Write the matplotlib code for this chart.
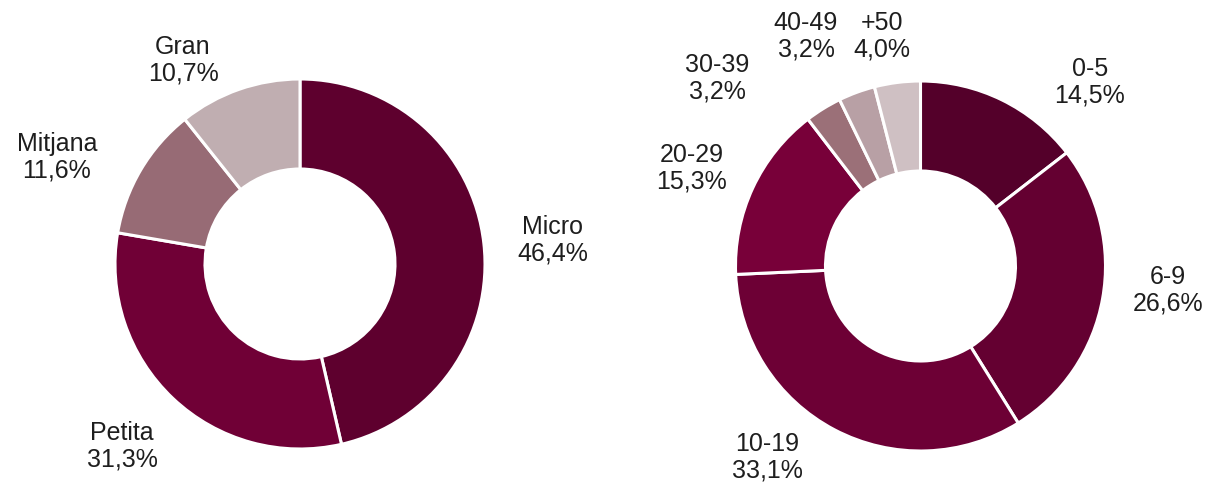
import matplotlib.pyplot as plt

# Left donut: company size
size_labels = ["Micro", "Petita", "Mitjana", "Gran"]
size_values = [46.4, 31.3, 11.6, 10.7]
size_colors = ["#5e002e", "#700036", "#976b75", "#c0aeb1"]

# Right donut: number of workers
emp_labels = ["0-5", "6-9", "10-19", "20-29", "30-39", "40-49", "+50"]
emp_values = [14.5, 26.6, 33.1, 15.3, 3.2, 3.2, 4.0]
emp_colors = ["#54002a", "#640031", "#6d0035", "#780039", "#9b7078", "#b8a0a5", "#cfc0c3"]

# label centres (pixels from top-left)
size_label_pos = [(553, 240), (122, 446), (57, 157), (183, 60)]
emp_label_pos = [(1090, 82), (1168, 290), (767, 457), (692, 168), (717, 78), (806, 36), (882, 36)]

W, H = 1210, 483


def fmt(v):
    return f"{v:.1f}".replace(".", ",") + "%"


fig = plt.figure(figsize=(12.1, 4.83), dpi=100)
ax = fig.add_axes([0, 0, 1, 1])

wedge_style = dict(width=90, edgecolor="white", linewidth=2.2)

ax.pie(size_values, colors=size_colors, startangle=90, counterclock=False,
       center=(300, H - 264), radius=185, wedgeprops=wedge_style)
ax.pie(emp_values, colors=emp_colors, startangle=90, counterclock=False,
       center=(920.5, H - 266), radius=185, wedgeprops=wedge_style)

for lab, val, (x, y) in zip(size_labels, size_values, size_label_pos):
    ax.text(x, H - y, f"{lab}\n{fmt(val)}", ha="center", va="center",
            fontsize=18, family="Liberation Sans", color="#1e1e1e", linespacing=1.15)

for lab, val, (x, y) in zip(emp_labels, emp_values, emp_label_pos):
    ax.text(x, H - y, f"{lab}\n{fmt(val)}", ha="center", va="center",
            fontsize=18, family="Liberation Sans", color="#1e1e1e", linespacing=1.15)

ax.set_xlim(0, W)
ax.set_ylim(0, H)
ax.set_aspect("equal")
ax.axis("off")

fig.savefig("out.png", dpi=100)
